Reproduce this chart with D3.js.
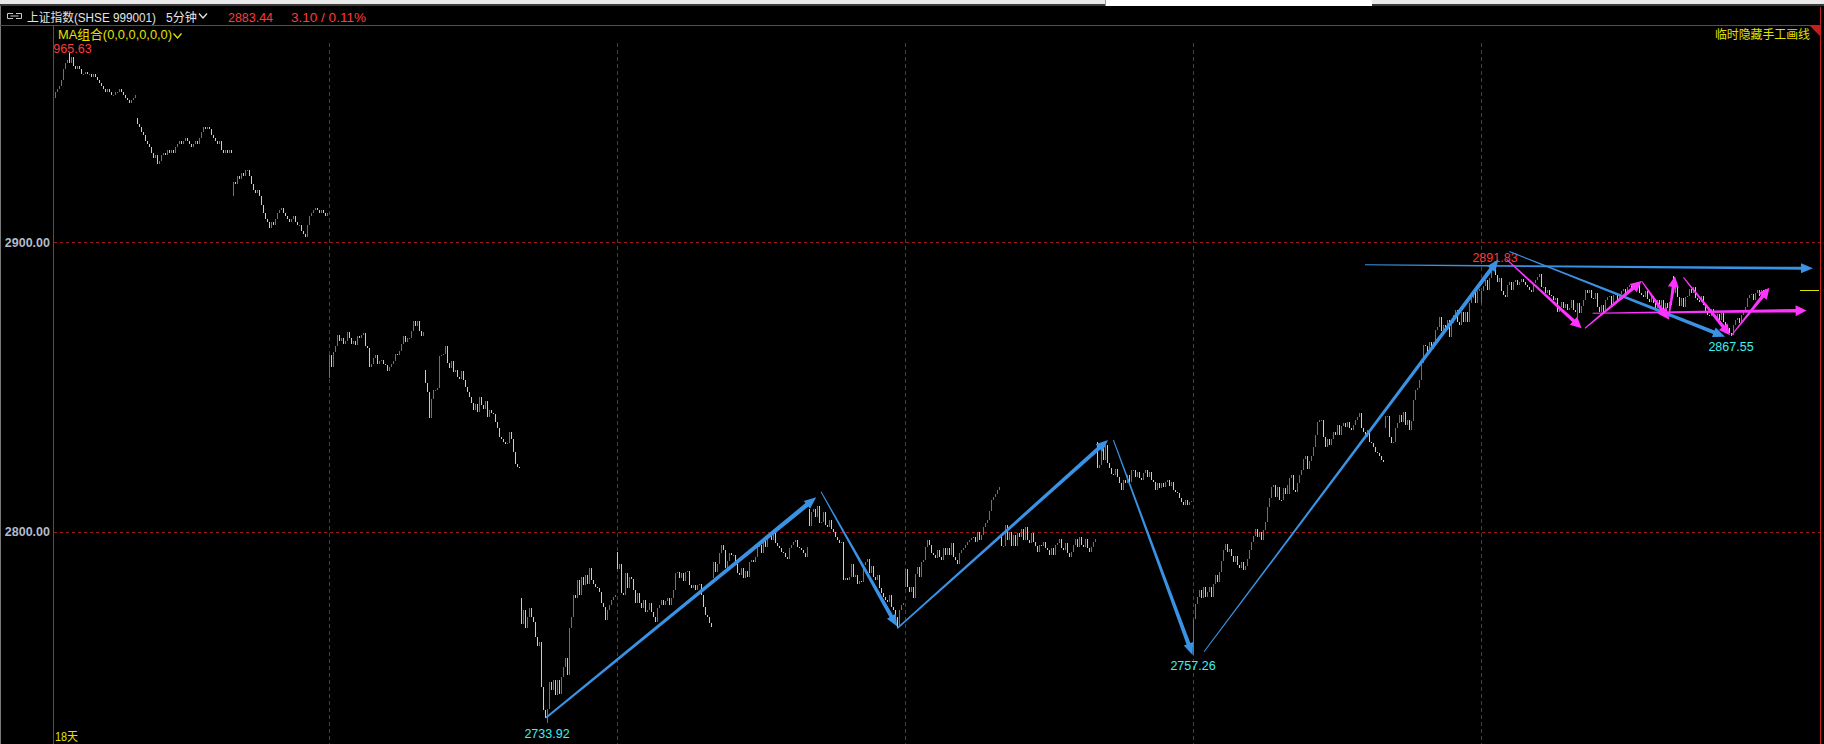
<!DOCTYPE html>
<html><head><meta charset="utf-8">
<script src="https://cdn.jsdelivr.net/npm/d3@7"></script>
<style>html,body{margin:0;padding:0;background:#000;overflow:hidden}</style>
</head><body>
<svg id="c" width="1824" height="744"></svg>
<script>
// ---------- data ----------
const dayLengths = [41,48,48,48,48,48,48,48,48,48,48,48,48,48,48,48,48,48];
const dayOpens = [2950,2943,2916,2853,2856,2777,2793,2784,2808,2781,2799,2831,2759,2813,2836,2879,2874,2888.5];
const closes = [
// day 0 (partial)
2952,2953,2954,2956,2960,2962,2963,2962,2964,2961,2960,2961,2960,2958,2958,2959,2958,2958,2957,2958,2957,2956,2955,2954,2953,2952,2953,2952,2951,2951,2952,2952,2953,2952,2951,2950,2949,2948,2949,2950,2951,
// day 1
2941,2940,2938,2937,2935,2934,2933,2931,2929,2930,2927,2928,2930,2931,2930,2932,2931,2932,2931,2933,2934,2935,2934,2935,2936,2935,2934,2933,2934,2935,2934,2936,2938,2940,2939,2940,2939,2937,2936,2935,2934,2935,2932,2931,2932,2931,2932,2931,
// day 2
2921,2920,2923,2922,2924,2923,2925,2925,2923,2920,2918,2917,2918,2916,2913,2910,2908,2907,2905,2907,2906,2908,2910,2911,2912,2910,2909,2908,2907,2908,2909,2907,2906,2906,2904,2903,2902,2906,2909,2910,2911,2912,2911,2910,2911,2910,2909,2910,
// day 3
2861,2857,2862,2864,2868,2866,2867,2865,2866,2869,2867,2865,2866,2864.5,2867.5,2867,2868,2868.5,2864,2863.5,2857,2858,2860,2861,2858,2859,2859.5,2858,2857.5,2855.5,2857,2858,2859,2861.5,2861,2862.5,2865,2867.5,2865.5,2866.8,2867,2869.4,2872.8,2871,2872.8,2869.5,2867.5,2869,
// day 4
2851.5,2848.4,2839.2,2846,2849,2849,2849.5,2860.7,2861,2861.5,2864,2858.2,2856.5,2859,2855.3,2856,2853.3,2852.6,2855.6,2852.4,2850,2848.4,2846.4,2844.3,2842,2844,2841.5,2846.6,2843.8,2842.3,2845,2839.7,2842,2841,2840.5,2838,2835.7,2832.8,2832.2,2831,2830.3,2830.6,2834.5,2832,2827.6,2823.4,2822.5,2821.9,
// day 5
2768,2772.9,2766.6,2770.6,2773.5,2770.6,2768.9,2763.7,2760.5,2762,2746.4,2738.4,2735.5,2738.9,2748.1,2745.3,2748.7,2743.5,2748.7,2744,2749.9,2753.3,2756.2,2750.5,2766.6,2770.6,2778.1,2777,2783.3,2778.1,2784.4,2781.5,2785,2782,2787.3,2783.3,2782,2781,2780.4,2779.2,2775.2,2774,2769.5,2773,2774.5,2776.4,2777.5,2778.1,
// day 6
2787,2789,2778.7,2778,2785.6,2780.4,2784.4,2783.5,2779.8,2775.2,2778.7,2775.2,2773.5,2776.4,2772.3,2772.9,2775.2,2772.3,2770.6,2768.9,2773.5,2774.6,2776.4,2774.6,2776,2777,2774.5,2777,2780,2785.6,2786.1,2784,2785.6,2783,2786,2786.5,2781.5,2780.4,2781.5,2779.8,2781.5,2782,2778,2774,2771.2,2770.6,2768.3,2767,
// day 7
2789.6,2786,2789,2792.5,2795.4,2793.6,2787.3,2790,2792.5,2791.9,2792,2789,2785.6,2785,2787.3,2784,2786.5,2784.4,2789.6,2790.2,2789.6,2791.4,2794.8,2795.4,2792.5,2797.1,2794.8,2798.2,2799.4,2797.1,2799.4,2796,2795,2794.2,2793,2792.5,2791.4,2790.6,2794.2,2795.4,2796.6,2797.1,2794.8,2794.2,2793.6,2792.5,2791.4,2794.8,
// day 8
2802,2806.9,2808,2805.2,2808.9,2803,2803.5,2806.9,2802.3,2801.7,2804,2801.1,2800,2798.3,2797.1,2796,2796.5,2783.3,2784,2783.3,2784.4,2789,2784.4,2785,2782,2783,2782.7,2788.4,2789.6,2790.5,2785.6,2788.2,2784.4,2783.3,2785,2780.4,2778.7,2777.5,2776.4,2775.8,2778,2774.1,2773,2770.6,2767.2,2773,2774.7,2775.3,
// day 9
2787,2781,2779,2781,2777,2785.5,2787.8,2784.4,2789.6,2790.2,2794.8,2797.1,2795.4,2792.5,2792,2791,2793.6,2791.4,2790.2,2794.2,2792,2794.2,2792,2796,2791.4,2790.2,2789,2792.5,2793.6,2794.2,2795.4,2796.6,2797,2797.7,2798.3,2796.6,2800,2797,2799,2801.7,2803,2804,2807,2811,2812,2813,2814.5,2815.5,
// day 10
2795,2795,2802.3,2797.1,2800,2795,2799,2795,2799.4,2798,2801,2797.1,2801.7,2797.1,2796,2799.4,2796.6,2795,2793,2795.4,2795,2796.6,2794.2,2793.6,2792,2794.2,2792,2795.4,2796,2797.4,2794.2,2793.6,2796,2792.5,2791.4,2793,2795.4,2797.4,2794.8,2798,2795.4,2794.8,2797.4,2794.2,2793,2794.8,2796.6,2797.4,
// day 11
2822,2823,2829,2824.8,2830,2823.6,2822,2820,2819.5,2821.5,2819,2816.7,2814.4,2818,2816.7,2819.5,2817.3,2821.3,2821.3,2819,2820.7,2818.7,2818,2820.2,2821.3,2819,2820.7,2818,2817.3,2814.4,2816.7,2815,2817,2815.3,2817.3,2817.7,2815.8,2817.3,2814.4,2813.8,2813.2,2811.5,2810.4,2809.2,2811,2809.2,2810.4,2810.5,
// day 12
2770,2775,2777.5,2780,2777,2781,2777.6,2779,2781,2777.6,2782,2785,2782.5,2786,2790,2793.8,2795.8,2793.1,2794,2791.5,2789.6,2791.5,2788.5,2787.3,2789.6,2786.7,2788,2790.5,2793.6,2796.6,2798.4,2801,2798.3,2800,2797.2,2800.6,2803.4,2808.7,2811.5,2815.5,2816.1,2812.1,2815.3,2811,2810.9,2815,2813,2816.3,
// day 13
2818.5,2819.5,2814.5,2813.7,2817,2819.5,2821.3,2825,2826,2821.8,2824.5,2826,2829.4,2833.4,2838,2838.5,2838.7,2832.8,2829.4,2832,2830,2832,2834.5,2833.4,2837,2833.4,2836.5,2837.5,2836.3,2837.8,2836,2835.2,2837,2838.7,2839.8,2841,2835.8,2834.6,2832.8,2835,2831,2830.5,2829.4,2827.6,2827.1,2826,2824.8,2824.2,
// day 14
2840,2840,2832.8,2830.5,2831,2835.7,2837.6,2840.3,2838,2841.4,2836.9,2838.5,2835.2,2838.4,2845.5,2848.9,2849.6,2852.4,2858.3,2864.5,2864,2861.6,2865.4,2863,2865.6,2869.6,2870.6,2874.3,2869.5,2871.5,2869.7,2873,2867.4,2872,2874.8,2876.6,2872.6,2871.4,2876,2872.6,2876,2872.6,2878.9,2880.6,2883.5,2878.9,2883,2883.9,
// day 15
2883,2885,2887,2883.5,2887.5,2890.4,2891.5,2888.7,2886.4,2887.5,2883,2881.8,2881.2,2885.2,2886.4,2883.5,2886.4,2887,2885.3,2886.4,2887.4,2886.4,2885.3,2884.7,2883.5,2882.9,2886,2887,2888,2889,2884.7,2884.7,2882.4,2883.5,2881.8,2881.4,2880,2880.6,2876,2877.7,2879.5,2877.2,2878.8,2876.6,2877.2,2880.2,2876.6,2876,
// day 16
2879,2875.5,2878,2880,2883.5,2882.4,2883.5,2880.6,2880.3,2882.4,2877.8,2876,2878.3,2876,2880,2881.2,2881.5,2878.3,2881.8,2882.4,2880,2882.3,2883,2884,2882,2884.7,2885.3,2884,2885.8,2883.5,2886,2882.4,2881.8,2881.2,2883,2880.5,2879.4,2881.5,2878.9,2877.2,2880,2877.2,2880,2876,2879,2877.3,2879.5,2878.3,
// day 17
2882.5,2884.7,2881.2,2878,2880.6,2877.8,2881,2881.5,2884,2882.4,2884.5,2880.6,2880,2879.5,2881.5,2878.3,2876,2874.9,2874.5,2877,2874.9,2873.8,2875.3,2873.2,2875.5,2872.6,2871.4,2870.3,2868.5,2867.9,2871.4,2873,2874,2872,2875,2876.5,2877.6,2880.6,2881.8,2882.2,2880,2882.4,2883.5,2881.6,2883.5,2882.4,2883.8,2883.44
];
// marked extremes
const extremeBars   = [7, 246, 569, 720, 838];
const extremePrices = [2965.63, 2733.92, 2757.26, 2891.83, 2867.55];
const extremeKinds  = ['high','low','low','high','low'];
const yTicks = [2800, 2900];
const separatorDays = [3, 6, 9, 12, 15];
// hand-drawn lines: [bar1, price1, bar2, price2]
const blueArrows = [
  [245.5,2735.7,380.6,2811.9],
  [383,2813.8,421.1,2767.2],
  [421.1,2766.6,526.5,2831.7],
  [529.2,2831.7,568.8,2757.4],
  [574.5,2758.5,721.7,2894.1],
  [655,2892.2,879,2891.0],
  [727.2,2896.8,835,2867.4]
];
const magentaArrows = [
  [725.8,2894.1,763.3,2870.3],
  [765,2870.3,793.3,2886.6],
  [793.3,2886.6,806.7,2873.4],
  [806.7,2873.4,810,2888.3],
  [814.2,2887.9,837.5,2867.9],
  [838.3,2867.9,857.2,2884.3],
  [768.8,2875.5,875.8,2876.4]
];
const title = "上证指数(SHSE 999001)";
const period = "5分钟";
const lastPrice = "2883.44";
const change = "3.10 / 0.11%";
const maLabel = "MA组合(0,0,0,0,0,0)";
const hideLabel = "临时隐藏手工画线";
const spanLabel = "18天";

// ---------- build candles ----------
const candles = [];
let k = 0;
dayLengths.forEach((len, d) => {
  let o = dayOpens[d];
  for (let j = 0; j < len; j++) {
    const c = closes[k];
    candles.push({i: k, day: d, o: o, c: c, h: Math.max(o, c), l: Math.min(o, c)});
    o = c; k++;
  }
});
extremeBars.forEach((b, n) => {
  const cd = candles[b];
  if (extremeKinds[n] === 'high') cd.h = Math.max(cd.h, extremePrices[n]);
  else cd.l = Math.min(cd.l, extremePrices[n]);
});
const dayStart = [];
{ let s = 0; dayLengths.forEach(l => { dayStart.push(s); s += l; }); }

// ---------- layout ----------
const W = 1824, H = 744;
const plotL = 54, plotR = 1820, plotT = 26;
const N = candles.length;
const x = d3.scaleLinear().domain([0, N - 1]).range([55, 55 + 2 * (N - 1)]);
const y = d3.scaleLinear().domain([2800, 2900]).range([531.7, 242.3]);

const UP = '#ff3232', DOWN = '#54ffff', GRID = '#9a1a1a', BORDER = '#c41e1e';
const BLUE = '#3a92e4', MAG = '#ff33ff', YEL = '#e2e200';
const NUMF = 'Liberation Sans, Arial, sans-serif';
const CJKF = 'Liberation Sans, Noto Sans CJK SC, sans-serif';

const svg = d3.select('#c');
svg.append('rect').attr('width', W).attr('height', H).attr('fill', '#000');

// top window strip
svg.append('rect').attr('x', 0).attr('y', 0).attr('width', W).attr('height', 4).attr('fill', '#e9e9e9');
svg.append('rect').attr('x', 0).attr('y', 4).attr('width', W).attr('height', 2).attr('fill', '#3c3c3c');
svg.append('rect').attr('x', 1105).attr('y', 0).attr('width', 267).attr('height', 6).attr('fill', '#ffffff');
svg.append('rect').attr('x', 1105).attr('y', 0).attr('width', 1).attr('height', 6).attr('fill', '#9a9a9a');
svg.append('rect').attr('x', 0).attr('y', 6).attr('width', 1).attr('height', H - 6).attr('fill', '#7a7a7a');

// plot clip
svg.append('clipPath').attr('id', 'pc').append('rect')
  .attr('x', plotL).attr('y', plotT).attr('width', plotR - plotL).attr('height', H - plotT);
const plot = svg.append('g').attr('clip-path', 'url(#pc)');

// grid
plot.selectAll('line.hg').data(yTicks).enter().append('line')
  .attr('x1', plotL).attr('x2', plotR)
  .attr('y1', d => Math.round(y(d)) + 0.5).attr('y2', d => Math.round(y(d)) + 0.5)
  .attr('stroke', GRID).attr('stroke-width', 1).attr('stroke-dasharray', '3,3');
plot.selectAll('line.vg').data(separatorDays).enter().append('line')
  .attr('x1', d => x(dayStart[d]) + 0.5).attr('x2', d => x(dayStart[d]) + 0.5)
  .attr('y1', 43).attr('y2', H)
  .attr('stroke', GRID).attr('stroke-width', 1).attr('stroke-dasharray', '4,3');

// candles
plot.append('g').attr('shape-rendering', 'crispEdges').selectAll('rect').data(candles).enter().append('rect')
  .attr('x', d => Math.round(x(d.i)))
  .attr('y', d => Math.round(y(d.h)))
  .attr('width', 1)
  .attr('height', d => Math.max(1, Math.round(y(d.l)) - Math.round(y(d.h))))
  .attr('fill', d => d.c >= d.o ? UP : DOWN);

// extreme labels
extremeBars.forEach((b, n) => {
  const hi = extremeKinds[n] === 'high';
  const yy = hi ? Math.max(y(extremePrices[n]) - 4, 53) : y(extremePrices[n]) + 15;
  plot.append('text')
    .attr('x', x(b)).attr('y', yy)
    .attr('text-anchor', 'middle').attr('font-family', NUMF).attr('font-size', 12.5)
    .attr('fill', hi ? '#ff3a3a' : '#3ef0f0')
    .text(extremePrices[n].toFixed(2));
});

// arrows
function arrowPath(x1, y1, x2, y2, w0, w1, hl, hw) {
  const dx = x2 - x1, dy = y2 - y1, L = Math.hypot(dx, dy);
  const ux = dx / L, uy = dy / L, nx = -uy, ny = ux;
  const bx = x2 - ux * hl, by = y2 - uy * hl;
  const pts = [[x1 + nx * w0 / 2, y1 + ny * w0 / 2], [bx + nx * w1 / 2, by + ny * w1 / 2], [bx + nx * hw, by + ny * hw],
    [x2, y2], [bx - nx * hw, by - ny * hw], [bx - nx * w1 / 2, by - ny * w1 / 2], [x1 - nx * w0 / 2, y1 - ny * w0 / 2]];
  return d3.line()(pts) + 'Z';
}
const blueW = [[2, 4.5], [1, 4], [1.5, 4], [1, 4], [1, 4], [1, 3], [1, 4]];
plot.append('g').selectAll('path').data(blueArrows).enter().append('path')
  .attr('d', (a, n) => arrowPath(x(a[0]), y(a[1]), x(a[2]), y(a[3]), blueW[n][0], blueW[n][1], 12, 5))
  .attr('fill', BLUE);
plot.append('g').selectAll('path').data(magentaArrows).enter().append('path')
  .attr('d', a => arrowPath(x(a[0]), y(a[1]), x(a[2]), y(a[3]), 1, 3.5, 11, 5.5))
  .attr('fill', MAG);

// last price marker at right
svg.append('line').attr('x1', 1800).attr('x2', 1819)
  .attr('y1', Math.round(y(closes[N - 1])) + 0.5).attr('y2', Math.round(y(closes[N - 1])) + 0.5)
  .attr('stroke', YEL).attr('stroke-width', 1);

// y axis labels
svg.selectAll('text.yl').data(yTicks).enter().append('text')
  .attr('x', 50).attr('y', d => y(d) + 4.5).attr('text-anchor', 'end')
  .attr('font-family', NUMF).attr('font-size', 12.5).attr('font-weight', 'bold')
  .attr('fill', '#b2bacb').text(d => d.toFixed(2));

// borders
svg.append('line').attr('x1', 0).attr('x2', 1821).attr('y1', 25.5).attr('y2', 25.5).attr('stroke', BORDER);
svg.append('line').attr('x1', 53.5).attr('x2', 53.5).attr('y1', 25).attr('y2', H).attr('stroke', BORDER);
svg.append('line').attr('x1', 1820.5).attr('x2', 1820.5).attr('y1', 7).attr('y2', H).attr('stroke', BORDER);
svg.append('path').attr('d', 'M1810,26L1820,26L1820,36Z').attr('fill', BORDER);

// header
function fitText(g, str, x0, w, yb, size, fill, fam) {
  return g.append('text').attr('x', x0).attr('y', yb).attr('font-family', fam).attr('font-size', size)
    .attr('fill', fill).attr('textLength', w).attr('lengthAdjust', 'spacingAndGlyphs')
    .attr('xml:space', 'preserve').text(str);
}
const hdr = svg.append('g');
hdr.append('path').attr('d', 'M13,13.5H7.5V18.5H13M16,13.5H21.5V18.5H16M10.5,16H18.5')
  .attr('fill', 'none').attr('stroke', '#c8c8c8').attr('stroke-width', 1);
fitText(hdr, title, 27, 129, 22, 12, '#e4e4e4', CJKF);
fitText(hdr, period, 166, 31, 22, 12, '#e4e4e4', CJKF);
hdr.append('path').attr('d', 'M199,13.5L203,18L207,13.5').attr('fill', 'none').attr('stroke', '#e4e4e4').attr('stroke-width', 1.3);
fitText(hdr, lastPrice, 228, 45, 22, 12.5, '#ff3a3a', NUMF);
fitText(hdr, change, 291, 75, 22, 13, '#ff3a3a', NUMF);

fitText(svg, maLabel, 58, 114, 38.5, 13, YEL, CJKF);
svg.append('path').attr('d', 'M173.5,33.5L177.5,38L181.5,33.5').attr('fill', 'none').attr('stroke', YEL).attr('stroke-width', 1.3);
fitText(svg, hideLabel, 1715, 95, 38.5, 12, YEL, CJKF);
fitText(svg, spanLabel, 55, 23, 741, 12.5, YEL, CJKF);
</script>
</body></html>
